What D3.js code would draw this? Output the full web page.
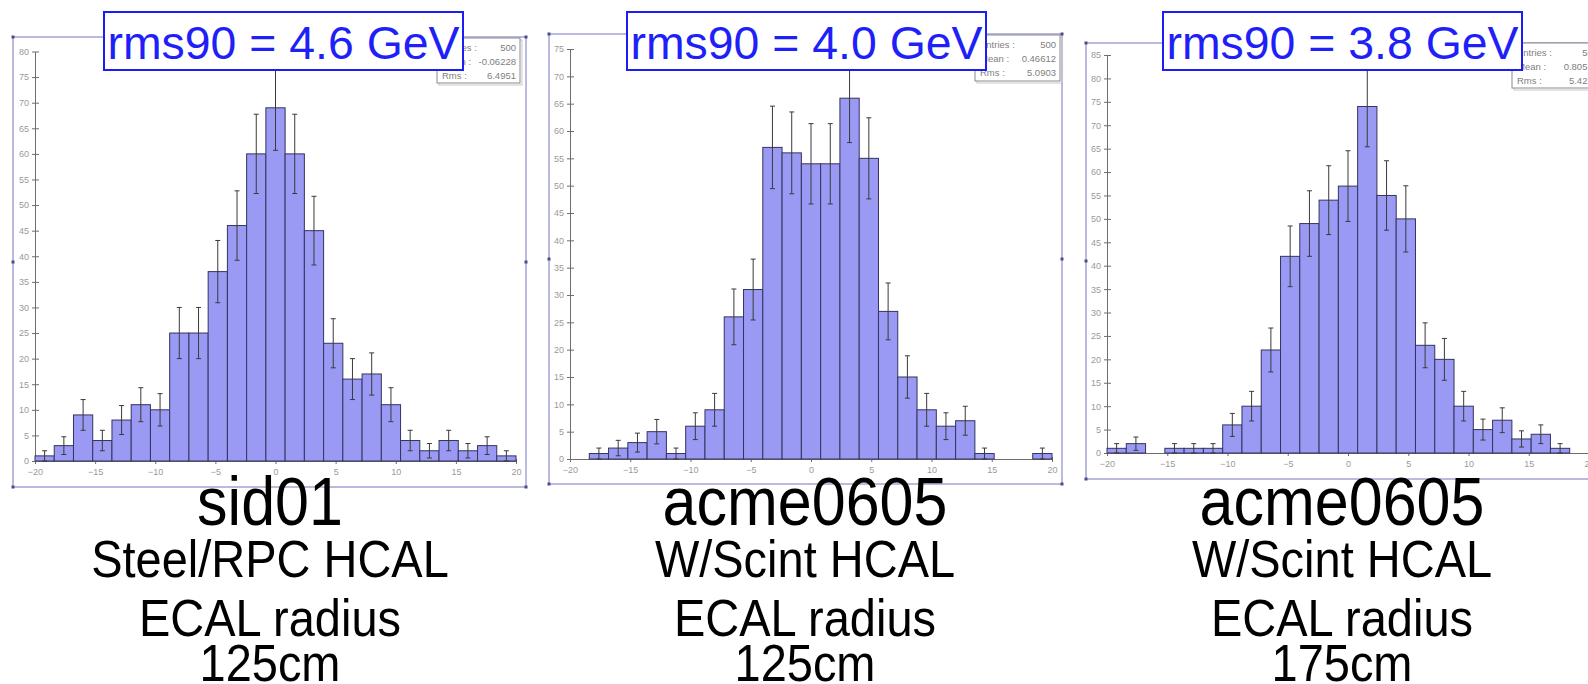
<!DOCTYPE html>
<html>
<head>
<meta charset="utf-8">
<script src="https://cdn.jsdelivr.net/npm/d3@7"></script>
<style>
  html, body { margin: 0; padding: 0; background: #fff; overflow: hidden; }
  svg { display: block; font-family: "Liberation Sans", Arial, sans-serif; }
</style>
</head>
<body>
<svg id="chart" width="1588" height="684"></svg>
<script>
// bin contents (25 bins, -20 .. 20 GeV)
var sid01Counts   = [1, 3, 9, 4, 8, 11, 10, 25, 25, 37, 46, 60, 69, 60, 45, 23, 16, 17, 11, 4, 2, 4, 2, 3, 1];
var acme125Counts = [0, 1, 2, 3, 5, 1, 6, 9, 26, 31, 57, 56, 54, 54, 66, 55, 27, 15, 9, 6, 7, 1, 0, 0, 1];
var acme175Counts = [1, 2, 0, 1, 1, 1, 6, 10, 22, 42, 49, 54, 57, 74, 55, 50, 23, 20, 10, 5, 7, 3, 4, 1, 0];

var xDomain = [-20, 20];
var xTicks = [-20, -15, -10, -5, 0, 5, 10, 15, 20];
var yMaxes = [80, 75, 85];

var rmsLabels = ["rms90 = 4.6 GeV", "rms90 = 4.0 GeV", "rms90 = 3.8 GeV"];
var detectors = ["sid01", "acme0605", "acme0605"];
var hcalNames = ["Steel/RPC HCAL", "W/Scint HCAL", "W/Scint HCAL"];
var ecalLines = ["ECAL radius", "ECAL radius", "ECAL radius"];
var radii = ["125cm", "125cm", "175cm"];

var statEntries = ["500", "500", "500"];
var statMeans = ["-0.06228", "0.46612", "0.80514"];
var statRms = ["6.4951", "5.0903", "5.4271"];

var allCounts = [sid01Counts, acme125Counts, acme175Counts];

// where each panel sits on the page
var layout = [
  {frame: [13, 37, 526, 487],   plot: [35, 516, 51.5, 461],  rmsX: 104,  stats: [437, 38, 83, 45],  cx: 270},
  {frame: [549, 34, 1062, 484], plot: [570, 1052, 49, 459],  rmsX: 627,  stats: [975, 35, 85, 46],  cx: 805},
  {frame: [1086, 43, 1600, 479], plot: [1107, 1589, 55, 453], rmsX: 1163, stats: [1512, 43, 90, 45], cx: 1342}
];

var svg = d3.select("#chart");

var barFill = "#9a9af4",
    barStroke = "#34345e",
    frameColor = "#a4a4d6",
    axisColor = "#6e6e6e",
    tickText = "#9a9a9a";

layout.forEach(function(L, p) {
  var counts = allCounts[p];
  var g = svg.append("g");

  // outer frame (left, top, right, bottom)
  var f = L.frame;
  g.append("rect")
    .attr("x", f[0]).attr("y", f[1])
    .attr("width", f[2] - f[0]).attr("height", f[3] - f[1])
    .attr("fill", "none").attr("stroke", frameColor).attr("stroke-width", 1.5);
  var handles = [[f[0], f[1]], [f[2], f[1]], [f[0], f[3]], [f[2], f[3]],
                 [f[0], (f[1] + f[3]) / 2], [f[2], (f[1] + f[3]) / 2]];
  g.selectAll("rect.handle").data(handles).enter().append("rect")
    .attr("class", "handle")
    .attr("x", function(d) { return d[0] - 1.5; })
    .attr("y", function(d) { return d[1] - 1.5; })
    .attr("width", 3).attr("height", 3)
    .attr("fill", "#4b4b8c");

  var x = d3.scaleLinear().domain(xDomain).range([L.plot[0], L.plot[1]]);
  var y = d3.scaleLinear().domain([0, yMaxes[p]]).range([L.plot[3], L.plot[2]]);
  var binW = (xDomain[1] - xDomain[0]) / counts.length;

  // stats box (sits under the rms90 label)
  var s = L.stats;
  g.append("rect")
    .attr("x", s[0] + 2).attr("y", s[1] + 2)
    .attr("width", s[2]).attr("height", s[3])
    .attr("fill", "none").attr("stroke", "#c8c8c8");
  g.append("rect")
    .attr("x", s[0]).attr("y", s[1])
    .attr("width", s[2]).attr("height", s[3])
    .attr("fill", "#fff").attr("stroke", "#8a8a8a");
  var rows = [["Entries :", statEntries[p]], ["Mean :", statMeans[p]], ["Rms :", statRms[p]]];
  rows.forEach(function(r, i) {
    g.append("text")
      .attr("x", s[0] + 5).attr("y", s[1] + 13 + i * 14)
      .attr("font-size", 9.5).attr("fill", "#808080").text(r[0]);
    g.append("text")
      .attr("x", s[0] + s[2] - 4).attr("y", s[1] + 13 + i * 14)
      .attr("text-anchor", "end")
      .attr("font-size", 9.5).attr("fill", "#808080").text(r[1]);
  });

  // y axis
  var yAxis = d3.axisLeft(y).tickValues(d3.range(0, yMaxes[p] + 1, 5))
    .tickSizeInner(3).tickSizeOuter(0).tickPadding(3);
  var ya = g.append("g").attr("transform", "translate(" + L.plot[0] + ",0)").call(yAxis);
  ya.select(".domain").attr("stroke", axisColor);
  ya.selectAll(".tick line").attr("stroke", axisColor).attr("x2", 4).attr("x1", -3);
  ya.selectAll(".tick text").attr("fill", tickText).attr("font-size", 9)
    .attr("font-family", "Liberation Sans, Arial, sans-serif");

  // x axis
  var xAxis = d3.axisBottom(x).tickValues(xTicks).tickSizeInner(3).tickSizeOuter(0).tickPadding(5);
  var xa = g.append("g").attr("transform", "translate(0," + L.plot[3] + ")").call(xAxis);
  xa.select(".domain").attr("stroke", axisColor);
  xa.selectAll(".tick line").attr("stroke", axisColor).attr("y1", -2).attr("y2", 3);
  xa.selectAll(".tick text").attr("fill", tickText).attr("font-size", 9)
    .attr("font-family", "Liberation Sans, Arial, sans-serif");

  // bars
  var bins = counts.map(function(c, i) {
    return {lo: xDomain[0] + i * binW, hi: xDomain[0] + (i + 1) * binW, n: c};
  }).filter(function(d) { return d.n > 0; });

  g.selectAll("rect.bar").data(bins).enter().append("rect")
    .attr("class", "bar")
    .attr("x", function(d) { return x(d.lo); })
    .attr("y", function(d) { return y(d.n); })
    .attr("width", function(d) { return x(d.hi) - x(d.lo); })
    .attr("height", function(d) { return y(0) - y(d.n); })
    .attr("fill", barFill)
    .attr("stroke", barStroke).attr("stroke-width", 1);

  // sqrt(N) error bars
  var eb = g.selectAll("g.err").data(bins).enter().append("g").attr("class", "err")
    .attr("stroke", "#3a3a3a").attr("stroke-width", 1);
  eb.append("line")
    .attr("x1", function(d) { return x((d.lo + d.hi) / 2); })
    .attr("x2", function(d) { return x((d.lo + d.hi) / 2); })
    .attr("y1", function(d) { return y(d.n - Math.sqrt(d.n)); })
    .attr("y2", function(d) { return y(d.n + Math.sqrt(d.n)); });
  [1, -1].forEach(function(sign) {
    eb.append("line")
      .attr("x1", function(d) { return x((d.lo + d.hi) / 2) - 2.5; })
      .attr("x2", function(d) { return x((d.lo + d.hi) / 2) + 2.5; })
      .attr("y1", function(d) { return y(d.n + sign * Math.sqrt(d.n)); })
      .attr("y2", function(d) { return y(d.n + sign * Math.sqrt(d.n)); });
  });

  // rms90 label box
  g.append("rect")
    .attr("x", L.rmsX).attr("y", 12).attr("width", 359).attr("height", 58)
    .attr("fill", "#fff").attr("stroke", "#1c1cf5").attr("stroke-width", 2);
  g.append("text")
    .attr("x", L.rmsX + 179.5).attr("y", 59)
    .attr("text-anchor", "middle")
    .attr("font-size", 47).attr("fill", "#1f1ff8")
    .attr("textLength", 352).attr("lengthAdjust", "spacingAndGlyphs")
    .text(rmsLabels[p]);

  // captions under each panel
  var captions = [
    {t: detectors[p], size: 61, base: 525},
    {t: hcalNames[p], size: 47, base: 577},
    {t: ecalLines[p], size: 47, base: 636},
    {t: radii[p], size: 47, base: 681}
  ];
  captions.forEach(function(c) {
    g.append("text")
      .attr("transform", "translate(" + L.cx + "," + c.base + ") scale(1,1.12)")
      .attr("text-anchor", "middle")
      .attr("font-size", c.size).attr("fill", "#000")
      .text(c.t);
  });
});
</script>
</body>
</html>
